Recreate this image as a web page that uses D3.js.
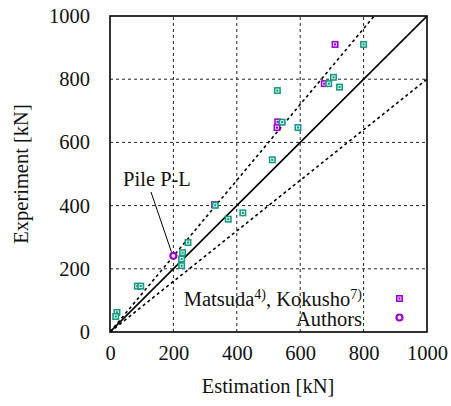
<!DOCTYPE html>
<html>
<head>
<meta charset="utf-8">
<script src="https://cdn.jsdelivr.net/npm/d3@7"></script>
<style>
  body { margin: 0; background: #fff; }
  svg text { font-family: "Liberation Serif", "DejaVu Serif", serif; fill: #111; }
</style>
</head>
<body>
<svg id="chart" width="451" height="406"></svg>
<script>
// tick values for both axes
const ticks = [0, 200, 400, 600, 800, 1000];
const tickLabels = ["0", "200", "400", "600", "800", "1000"];

// estimation / experiment pairs [kN]
const tealEst = [800, 705, 690, 724, 528, 543, 593, 512, 332, 419, 373, 246, 229, 226, 226, 86, 97, 22, 18];
const tealExp = [910, 806, 786, 775, 764, 664, 647, 545, 401, 377, 357, 283, 251, 231, 210, 145, 145, 62, 49];
const purpleEst = [710, 676, 529, 527, 330];
const purpleExp = [910, 786, 665, 647, 403];
const authorsEst = [200];
const authorsExp = [241];

// reference lines: y = k * x
const ratios = [1.2, 1.0, 0.8];

const teal = "#169b80", purple = "#9a00d0";
const fs = 20.5;

const svg = d3.select("#chart");
const x = d3.scaleLinear().domain([0, 1000]).range([110, 427]);
const y = d3.scaleLinear().domain([0, 1000]).range([332, 16]);

svg.append("defs").append("clipPath").attr("id", "plotclip")
  .append("rect").attr("x", 110).attr("y", 16).attr("width", 317).attr("height", 316);

// grid
const grid = svg.append("g").attr("stroke", "#222").attr("stroke-width", 1).attr("stroke-dasharray", "3,3");
ticks.slice(1, -1).forEach(t => {
  grid.append("line").attr("x1", x(t)).attr("x2", x(t)).attr("y1", y(0)).attr("y2", y(1000));
  grid.append("line").attr("x1", x(0)).attr("x2", x(1000)).attr("y1", y(t)).attr("y2", y(t));
});

// reference lines
const refs = svg.append("g").attr("clip-path", "url(#plotclip)");
ratios.forEach(k => {
  refs.append("line")
    .attr("x1", x(0)).attr("y1", y(0))
    .attr("x2", x(1000)).attr("y2", y(1000 * k))
    .attr("stroke", "#000").attr("stroke-width", 1.6)
    .attr("stroke-dasharray", k === 1 ? null : "3,3");
});

// frame
svg.append("rect").attr("x", 110).attr("y", 16).attr("width", 317).attr("height", 316)
  .attr("fill", "none").attr("stroke", "#000").attr("stroke-width", 1.6);

// axis tick labels
const yAxis = d3.axisLeft(y).tickValues(ticks).tickFormat((d, i) => tickLabels[i]).tickSize(0).tickPadding(20);
const xAxis = d3.axisBottom(x).tickValues(ticks).tickFormat((d, i) => tickLabels[i]).tickSize(0).tickPadding(13);
const ya = svg.append("g").attr("transform", "translate(110,0)").call(yAxis);
const xa = svg.append("g").attr("transform", "translate(0,332)").call(xAxis);
[ya, xa].forEach(a => {
  a.select(".domain").remove();
  a.selectAll("text").attr("font-size", fs).attr("font-family", "Liberation Serif, serif").attr("fill", "#111");
});

// markers
function squares(est, exp, color) {
  const g = svg.append("g");
  est.forEach((e, i) => {
    g.append("rect").attr("x", x(e) - 3.5).attr("y", y(exp[i]) - 3.5)
      .attr("width", 7).attr("height", 7).attr("fill", color);
    g.append("rect").attr("x", x(e) - 1.5).attr("y", y(exp[i]) - 1.5)
      .attr("width", 3).attr("height", 3).attr("fill", "none").attr("stroke", "#fff").attr("stroke-width", 0.8);
  });
}
squares(purpleEst, purpleExp, purple);
squares(tealEst, tealExp, teal);

authorsEst.forEach((e, i) => {
  svg.append("circle").attr("cx", x(e)).attr("cy", y(authorsExp[i])).attr("r", 3)
    .attr("fill", "#fff").attr("stroke", purple).attr("stroke-width", 2.2);
});

// Pile P-L annotation
svg.append("text").attr("x", 157).attr("y", 186).attr("text-anchor", "middle")
  .attr("font-size", fs).text("Pile P-L");
svg.append("line").attr("x1", 151).attr("y1", 192).attr("x2", x(authorsEst[0]) - 2).attr("y2", y(authorsExp[0]) - 4)
  .attr("stroke", "#000").attr("stroke-width", 1);

// axis titles
svg.append("text").attr("x", 268).attr("y", 393).attr("text-anchor", "middle")
  .attr("font-size", fs).text("Estimation [kN]");
svg.append("text").attr("transform", "translate(28,174) rotate(-90)").attr("text-anchor", "middle")
  .attr("font-size", fs).text("Experiment [kN]");

// legend
const leg = svg.append("text").attr("x", 362).attr("y", 306).attr("text-anchor", "end").attr("font-size", fs);
leg.append("tspan").text("Matsuda");
leg.append("tspan").attr("font-size", 14).attr("dy", -7).text("4)");
leg.append("tspan").attr("dy", 7).text(", Kokusho");
leg.append("tspan").attr("font-size", 14).attr("dy", -7).text("7)");
svg.append("text").attr("x", 362).attr("y", 326).attr("text-anchor", "end").attr("font-size", fs).text("Authors");
svg.append("rect").attr("x", 396).attr("y", 295).attr("width", 7).attr("height", 7).attr("fill", purple);
svg.append("rect").attr("x", 398).attr("y", 297).attr("width", 3).attr("height", 3).attr("fill", "none").attr("stroke", "#fff").attr("stroke-width", 0.8);
svg.append("circle").attr("cx", 399.5).attr("cy", 317.5).attr("r", 3)
  .attr("fill", "#fff").attr("stroke", purple).attr("stroke-width", 2.2);
</script>
</body>
</html>
